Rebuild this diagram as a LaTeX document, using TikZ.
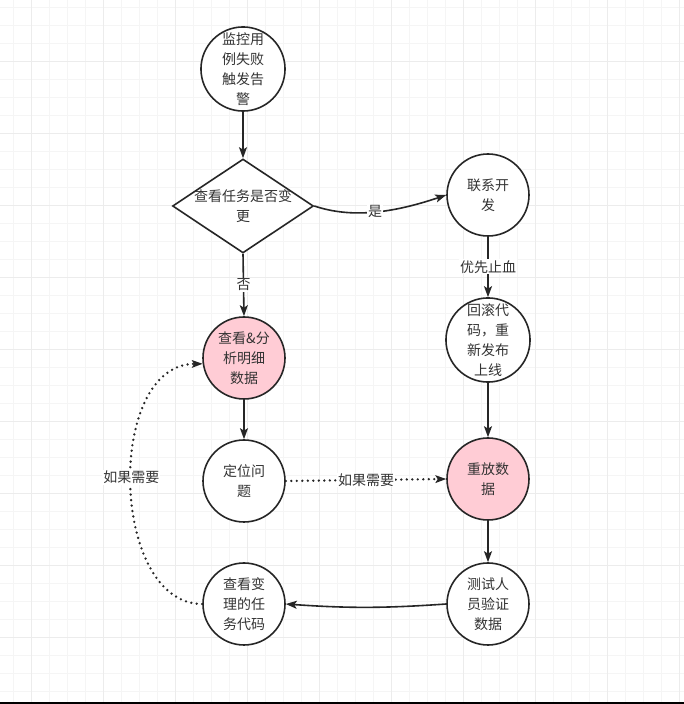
\documentclass[tikz,border=0pt]{standalone}
\usepackage{fontspec}
\newfontfamily\cjk{Noto Sans CJK SC}
\usetikzlibrary{shapes.geometric,arrows.meta}
\definecolor{rose}{HTML}{FFCCD5}
\definecolor{ink}{HTML}{262626}
\definecolor{txtgray}{HTML}{333333}
\tikzset{
  etape/.style={circle, draw=ink, line width=1.6pt, minimum size=82pt, inner sep=0pt,
    font=\cjk\fontsize{14}{20}\selectfont, text=txtgray, align=center, fill=white},
  etaperose/.style={etape, fill=rose},
  fleche/.style={draw=ink, line width=1.6pt, -{Stealth[length=11pt,width=8pt,inset=2.5pt]}},
  pointille/.style={draw=ink, line cap=round, dash pattern=on 0pt off 5.5pt, line width=2.6pt,
    -{Stealth[length=11pt,width=8pt,inset=2.5pt,line width=0pt]}},
  lbl/.style={fill=white, inner sep=1pt, font=\cjk\fontsize{14}{20}\selectfont, text=txtgray}
}
\begin{document}
\begin{tikzpicture}[x=1pt,y=1pt]
\useasboundingbox (0,0) rectangle (684,704);

% Quadrillage
\fill[white] (0,0) rectangle (684,704);
\foreach \v in {13,31,...,697}
{
\draw[gray!8, line width=0.6pt] (\v,0) -- (\v,704);
\draw[gray!8, line width=0.6pt] (0,\v) -- (684,\v);
}
\foreach \v in {31,103,...,679}
\draw[gray!15, line width=0.8pt] (\v,0) -- (\v,704);
\foreach \v in {67,139,...,643}
\draw[gray!15, line width=0.8pt] (0,\v) -- (684,\v);
\draw[black, line width=2pt] (0,1) -- (684,1);

% Etapes
\node[etape] (alarm) at (243,635) {监控用\\例失败\\触发告\\警};
\node[diamond, draw=ink, line width=1.6pt, fill=white, minimum width=141pt,
  minimum height=94pt, inner sep=0pt] (check) at (243,498) {};
\node[font=\cjk\fontsize{14}{20}\selectfont, text=txtgray, align=center] (checktxt) at (243,498) {查看任务是否变\\更};
\node[etape] (contact) at (488,509) {联系开\\发};
\node[etape] (rollback) at (488,364) {回滚代\\码，重\\新发布\\上线};
\node[etaperose] (replay) at (488,225) {重放数\\据};
\node[etape] (verify) at (488,100) {测试人\\员验证\\数据};
\node[etaperose] (analyze) at (244,346) {查看\&分\\析明细\\数据};
\node[etape] (locate) at (244,223) {定位问\\题};
\node[etape] (review) at (244,100) {查看变\\理的任\\务代码};

% Liens
\draw[fleche] (alarm) -- (check.north);
\draw[fleche] (check.east) .. controls (350,486) and (390,490) .. (contact.west)
  node[lbl, pos=0.52] {是};
\draw[fleche] (check.south) -- (analyze.north) node[lbl, midway] {否};
\draw[fleche] (contact) -- (rollback) node[lbl, midway] {优先止血};
\draw[fleche] (rollback) -- (replay);
\draw[fleche] (replay) -- (verify);
\draw[fleche] (analyze) -- (locate);
\draw[fleche] (verify.west) to[bend left=4] (review.east);
\draw[pointille] (locate.east) -- (replay.west) node[lbl, midway] {如果需要};
\draw[pointille] (review.west) .. controls (110,100) and (105,339) .. (analyze.188)
  node[lbl, pos=0.52] {如果需要};

\end{tikzpicture}
\end{document}
